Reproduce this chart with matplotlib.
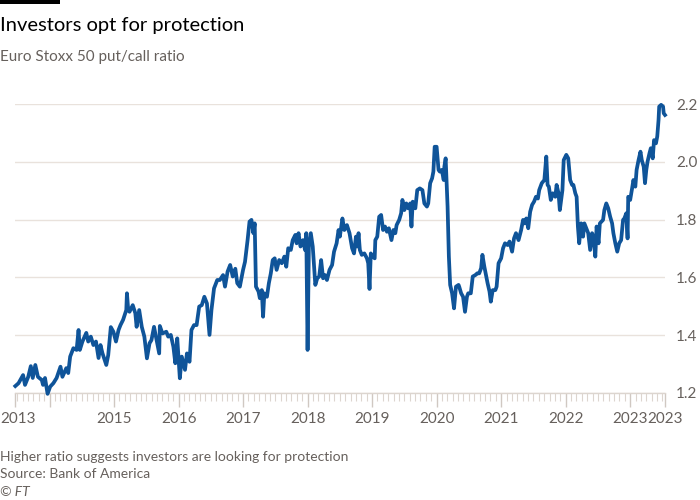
import numpy as np
import matplotlib
matplotlib.use("Agg")
import matplotlib.pyplot as plt
from matplotlib.patches import Rectangle
from matplotlib.transforms import ScaledTranslation

# Euro Stoxx 50 put/call ratio (decimal years)
dates = [
    2013.47, 2013.52, 2013.59, 2013.62, 2013.67, 2013.71, 2013.74, 2013.78, 2013.82, 2013.88,
    2013.90, 2013.93, 2013.97, 2014.01, 2014.06, 2014.11, 2014.17, 2014.20, 2014.26, 2014.29,
    2014.32, 2014.37, 2014.42, 2014.45, 2014.47, 2014.51, 2014.57, 2014.60, 2014.64, 2014.68,
    2014.72, 2014.76, 2014.79, 2014.82, 2014.88, 2014.91, 2014.95, 2014.99, 2015.03, 2015.07,
    2015.10, 2015.14, 2015.19, 2015.20, 2015.22, 2015.24, 2015.29, 2015.33, 2015.35, 2015.39,
    2015.43, 2015.47, 2015.51, 2015.55, 2015.58, 2015.62, 2015.66, 2015.70, 2015.71, 2015.75,
    2015.81, 2015.84, 2015.88, 2015.92, 2015.95, 2015.98, 2016.02, 2016.05, 2016.10, 2016.13,
    2016.17, 2016.20, 2016.24, 2016.28, 2016.32, 2016.36, 2016.40, 2016.44, 2016.48, 2016.51,
    2016.55, 2016.60, 2016.64, 2016.69, 2016.72, 2016.76, 2016.80, 2016.84, 2016.88, 2016.91,
    2016.95, 2017.00, 2017.03, 2017.07, 2017.10, 2017.13, 2017.16, 2017.18, 2017.20, 2017.24,
    2017.26, 2017.29, 2017.31, 2017.33, 2017.37, 2017.40, 2017.43, 2017.46, 2017.49, 2017.52,
    2017.56, 2017.60, 2017.64, 2017.67, 2017.70, 2017.74, 2017.77, 2017.81, 2017.83, 2017.86,
    2017.89, 2017.93, 2017.96, 2017.98, 2018.00, 2018.02, 2018.05, 2018.08, 2018.12, 2018.15,
    2018.18, 2018.21, 2018.24, 2018.27, 2018.30, 2018.34, 2018.38, 2018.41, 2018.45, 2018.48,
    2018.50, 2018.54, 2018.57, 2018.61, 2018.65, 2018.69, 2018.72, 2018.75, 2018.77, 2018.79,
    2018.81, 2018.84, 2018.88, 2018.92, 2018.94, 2018.96, 2018.98, 2019.01, 2019.04, 2019.05,
    2019.08, 2019.11, 2019.14, 2019.17, 2019.20, 2019.23, 2019.26, 2019.30, 2019.33, 2019.36,
    2019.38, 2019.42, 2019.45, 2019.47, 2019.50, 2019.53, 2019.56, 2019.59, 2019.61, 2019.63,
    2019.67, 2019.70, 2019.74, 2019.78, 2019.81, 2019.85, 2019.87, 2019.90, 2019.93, 2019.95,
    2019.97, 2020.00, 2020.03, 2020.05, 2020.08, 2020.11, 2020.12, 2020.14, 2020.17, 2020.19,
    2020.21, 2020.24, 2020.27, 2020.30, 2020.34, 2020.35, 2020.38, 2020.41, 2020.44, 2020.47,
    2020.49, 2020.53, 2020.56, 2020.60, 2020.63, 2020.66, 2020.69, 2020.71, 2020.74, 2020.77,
    2020.79, 2020.82, 2020.84, 2020.87, 2020.91, 2020.93, 2020.96, 2021.00, 2021.03, 2021.06,
    2021.10, 2021.13, 2021.17, 2021.20, 2021.23, 2021.27, 2021.31, 2021.34, 2021.36, 2021.39,
    2021.42, 2021.45, 2021.48, 2021.51, 2021.54, 2021.57, 2021.59, 2021.63, 2021.67, 2021.70,
    2021.72, 2021.74, 2021.77, 2021.80, 2021.84, 2021.86, 2021.89, 2021.91, 2021.95, 2021.97,
    2022.01, 2022.04, 2022.07, 2022.10, 2022.12, 2022.15, 2022.17, 2022.19, 2022.21, 2022.24,
    2022.27, 2022.29, 2022.33, 2022.35, 2022.38, 2022.41, 2022.43, 2022.46, 2022.48, 2022.51,
    2022.53, 2022.58, 2022.60, 2022.63, 2022.66, 2022.69, 2022.72, 2022.74, 2022.77, 2022.80,
    2022.83, 2022.86, 2022.89, 2022.91, 2022.94, 2022.96, 2022.97, 2023.00, 2023.03, 2023.05,
    2023.08, 2023.10, 2023.13, 2023.16, 2023.18, 2023.21, 2023.23, 2023.25, 2023.27, 2023.30,
    2023.32, 2023.35, 2023.37, 2023.40, 2023.42, 2023.44, 2023.45, 2023.48, 2023.51, 2023.52,
    2023.54,
]
ratio = [
    1.224, 1.234, 1.262, 1.228, 1.256, 1.293, 1.252, 1.297, 1.256, 1.245,
    1.228, 1.252, 1.197, 1.222, 1.234, 1.252, 1.291, 1.256, 1.286, 1.269,
    1.326, 1.355, 1.349, 1.418, 1.349, 1.378, 1.408, 1.378, 1.395, 1.366,
    1.378, 1.321, 1.366, 1.338, 1.297, 1.331, 1.428, 1.412, 1.378, 1.418,
    1.435, 1.453, 1.487, 1.545, 1.487, 1.481, 1.504, 1.476, 1.429, 1.487,
    1.429, 1.395, 1.320, 1.372, 1.383, 1.429, 1.383, 1.337, 1.432, 1.406,
    1.412, 1.395, 1.401, 1.360, 1.303, 1.389, 1.251, 1.326, 1.280, 1.337,
    1.308, 1.418, 1.435, 1.435, 1.499, 1.504, 1.533, 1.510, 1.401, 1.487,
    1.562, 1.591, 1.591, 1.608, 1.568, 1.620, 1.643, 1.603, 1.630, 1.580,
    1.568, 1.626, 1.654, 1.729, 1.793, 1.799, 1.753, 1.787, 1.568, 1.551,
    1.528, 1.556, 1.464, 1.545, 1.533, 1.580, 1.614, 1.660, 1.666, 1.626,
    1.660, 1.649, 1.672, 1.637, 1.701, 1.695, 1.729, 1.747, 1.718, 1.753,
    1.707, 1.729, 1.695, 1.753, 1.349, 1.707, 1.753, 1.707, 1.574, 1.597,
    1.603, 1.660, 1.597, 1.608, 1.591, 1.626, 1.643, 1.689, 1.718, 1.764,
    1.741, 1.804, 1.764, 1.781, 1.753, 1.701, 1.683, 1.741, 1.707, 1.753,
    1.695, 1.678, 1.683, 1.666, 1.649, 1.560, 1.683, 1.672, 1.666, 1.729,
    1.741, 1.810, 1.816, 1.764, 1.776, 1.758, 1.770, 1.729, 1.764, 1.753,
    1.781, 1.799, 1.822, 1.868, 1.833, 1.856, 1.839, 1.856, 1.776, 1.862,
    1.839, 1.902, 1.908, 1.902, 1.856, 1.845, 1.856, 1.926, 1.943, 1.966,
    2.052, 2.052, 1.972, 1.966, 1.972, 1.937, 1.983, 2.012, 1.845, 1.672,
    1.574, 1.545, 1.493, 1.568, 1.574, 1.568, 1.545, 1.533, 1.481, 1.533,
    1.545, 1.545, 1.603, 1.608, 1.614, 1.614, 1.632, 1.678, 1.637, 1.603,
    1.580, 1.551, 1.516, 1.556, 1.556, 1.568, 1.649, 1.666, 1.701, 1.718,
    1.712, 1.724, 1.689, 1.735, 1.753, 1.729, 1.764, 1.799, 1.787, 1.804,
    1.770, 1.827, 1.851, 1.862, 1.879, 1.873, 1.902, 1.926, 1.937, 2.018,
    1.920, 1.914, 1.868, 1.891, 1.879, 1.920, 1.891, 1.833, 1.902, 2.006,
    2.024, 2.012, 1.937, 1.920, 1.920, 1.891, 1.879, 1.776, 1.718, 1.787,
    1.741, 1.787, 1.764, 1.753, 1.695, 1.753, 1.741, 1.672, 1.776, 1.718,
    1.787, 1.799, 1.833, 1.856, 1.839, 1.810, 1.787, 1.753, 1.718, 1.689,
    1.718, 1.729, 1.799, 1.804, 1.822, 1.735, 1.879, 1.868, 1.908, 1.937,
    1.914, 1.972, 2.006, 2.035, 2.006, 1.983, 1.926, 1.972, 2.001, 2.030,
    2.047, 2.012, 2.075, 2.064, 2.088, 2.145, 2.191, 2.197, 2.191, 2.168,
    2.162,
]

yticks = [1.2, 1.4, 1.6, 1.8, 2.0, 2.2]
xtick_pos = [2013.47, 2015, 2016, 2017, 2018, 2019, 2020, 2021, 2022, 2023, 2023.54]
xtick_labels = ["2013", "2015", "2016", "2017", "2018", "2019", "2020", "2021", "2022", "2023", "2023"]

plt.rcParams['font.family'] = ['Lato', 'DejaVu Sans']
grey = '#66605C'
grid_col = '#E9E2DC'
blue = '#0F5499'

fig = plt.figure(figsize=(7, 5), dpi=100)
fig.patch.set_facecolor('white')
ax = fig.add_axes([15 / 700, 107 / 500, 650 / 700, 289 / 500])

ax.plot(dates, ratio, color=blue, lw=2.7, solid_joinstyle='round', clip_on=False, zorder=3)

ax.set_xlim(2013.465, 2023.54)
ax.set_ylim(1.2, 2.2)

for s in ['left', 'right', 'top']:
    ax.spines[s].set_visible(False)
ax.spines['bottom'].set_color('#DCD5CF')
ax.spines['bottom'].set_linewidth(1)

ax.set_yticks(yticks)
ax.set_yticklabels([f"{v:.1f}" for v in yticks])
ax.yaxis.tick_right()
ax.tick_params(axis='y', length=0, pad=8, labelsize=11, labelcolor=grey)
ax.grid(axis='y', color=grid_col, lw=1)
ax.set_axisbelow(True)

# year ticks plus a monthly minor tick row
ax.set_xticks(xtick_pos + [2014])
ax.set_xticklabels(xtick_labels + [""])
months = np.arange(2013.5, 2023.55, 1 / 12)
ax.set_xticks(months, minor=True)
ax.tick_params(axis='x', which='major', length=10, width=1, color='#D0C8C2',
               labelsize=11, labelcolor=grey, pad=4)
ax.tick_params(axis='x', which='minor', length=6, width=0.8, color='#DCD5CF')

# keep the first "2013" inside the figure
first = ax.get_xticklabels()[0]
first.set_transform(first.get_transform() + ScaledTranslation(2 / 72, 0, fig.dpi_scale_trans))

# texts
fig.add_artist(Rectangle((0, 1 - 4 / 500), 60 / 700, 4 / 500, transform=fig.transFigure,
                         color='black', lw=0))
fig.text(0, 1 - 25 / 500, "Investors opt for protection", fontsize=14.5, color='#000000',
         va='center', ha='left')
fig.text(0, 1 - 57 / 500, "Euro Stoxx 50 put/call ratio", fontsize=11, color=grey,
         va='center', ha='left')
fig.text(0, 1 - 457 / 500, "Higher ratio suggests investors are looking for protection",
         fontsize=10, color=grey, va='center', ha='left')
fig.text(0, 1 - 474 / 500, "Source: Bank of America", fontsize=10, color=grey,
         va='center', ha='left')
fig.text(0, 1 - 492 / 500, "© FT", fontsize=10, color=grey, va='center', ha='left',
         style='italic')

fig.savefig('out.png', dpi=100, facecolor='white')
